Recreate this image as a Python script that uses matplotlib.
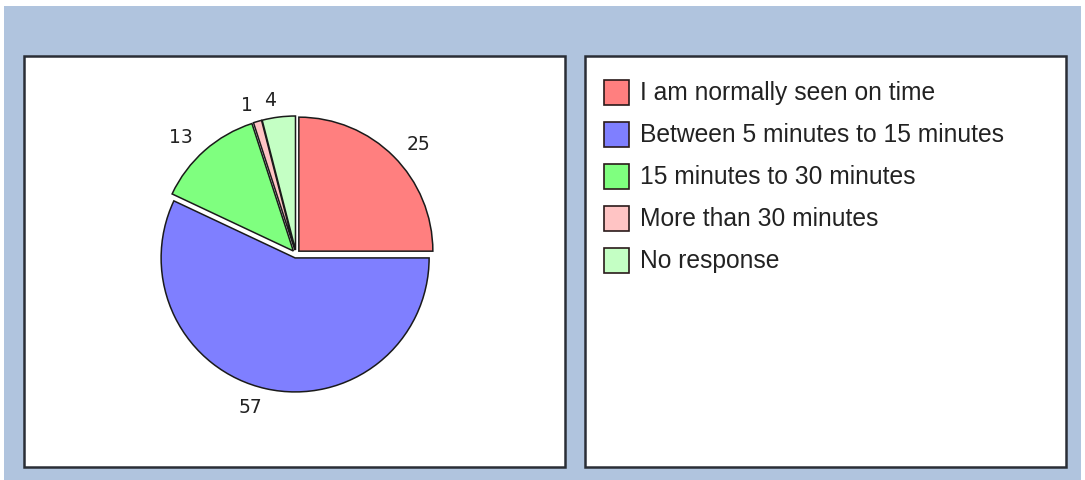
import matplotlib
matplotlib.use("Agg")
import matplotlib.pyplot as plt
from matplotlib.patches import Rectangle

categories = ["I am normally seen on time", "Between 5 minutes to 15 minutes",
              "15 minutes to 30 minutes", "More than 30 minutes", "No response"]
values = [25, 57, 13, 1, 4]
colors = ["#FF7F7F", "#7F7FFF", "#7FFF7F", "#FFC4C4", "#C4FFC4"]

W, H = 1085, 481
fig = plt.figure(figsize=(W / 100, H / 100), dpi=100)
fig.patch.set_facecolor("white")

def px_rect(x0, y0, x1, y1, **kw):
    # y given from top in pixels
    r = Rectangle((x0 / W, 1 - y1 / H), (x1 - x0) / W, (y1 - y0) / H,
                  transform=fig.transFigure, figure=fig, **kw)
    fig.patches.append(r)

# background
px_rect(4, 7, 1081, 481, facecolor="#B0C4DE", edgecolor="none", zorder=0)
# panels
px_rect(24, 57, 565, 468, facecolor="white", edgecolor="#2A2E36", linewidth=1.8, zorder=1)
px_rect(585, 57, 1066, 468, facecolor="white", edgecolor="#2A2E36", linewidth=1.8, zorder=1)

# pie axes
cx, cy, R = 296, 255, 134
half = 200
ax = fig.add_axes([(cx - half) / W, 1 - (cy + half) / H, 2 * half / W, 2 * half / H])
ax.set_zorder(2)
wedges, texts = ax.pie(values, colors=colors, startangle=90, counterclock=False,
                       explode=[0.03] * len(values), labels=[str(v) for v in values],
                       labeldistance=1.135,
                       wedgeprops=dict(edgecolor="#1A1A1A", linewidth=1.1),
                       textprops=dict(fontsize=13.5, color="#222222", family="DejaVu Sans"))
lim = half / R
ax.set_xlim(-lim, lim)
ax.set_ylim(-lim, lim)
ax.set_aspect("equal")
ax.axis("off")

# legend
box = 25
y0 = 93
dy = 42
for i, (lab, col) in enumerate(zip(categories, colors)):
    yc = y0 + i * dy
    px_rect(604, yc - box / 2, 604 + box, yc + box / 2, facecolor=col,
            edgecolor="#2A1A1A", linewidth=1.2, zorder=3)
    fig.text(640 / W, 1 - yc / H, lab, fontsize=17.7, family="Liberation Sans",
             color="#222222", ha="left", va="center", zorder=3)

fig.savefig("out.png", dpi=100)
